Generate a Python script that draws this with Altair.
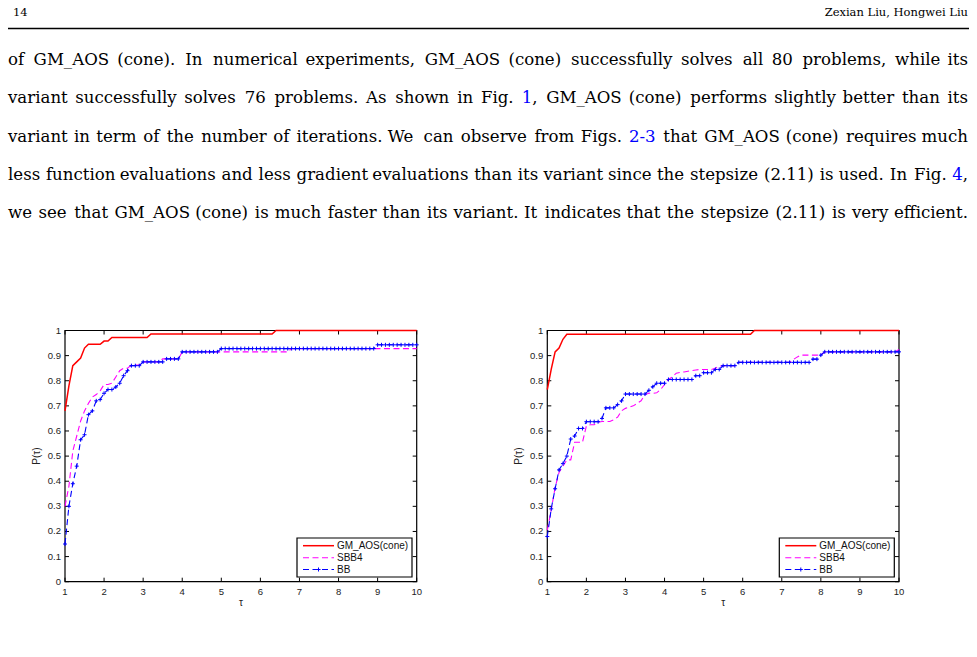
import altair as alt
import pandas as pd

# ---------------- data ----------------
tau = [1.0, 1.1, 1.2, 1.3, 1.4, 1.5, 1.6, 1.7, 1.8, 1.9,
       2.0, 2.1, 2.2, 2.3, 2.4, 2.5, 2.6, 2.7, 2.8, 2.9,
       3.0, 3.1, 3.2, 3.3, 3.4, 3.5, 3.6, 3.7, 3.8, 3.9,
       4.0, 4.1, 4.2, 4.3, 4.4, 4.5, 4.6, 4.7, 4.8, 4.9,
       5.0, 5.1, 5.2, 5.3, 5.4, 5.5, 5.6, 5.7, 5.8, 5.9,
       6.0, 6.1, 6.2, 6.3, 6.4, 6.5, 6.6, 6.7, 6.8, 6.9,
       7.0, 7.1, 7.2, 7.3, 7.4, 7.5, 7.6, 7.7, 7.8, 7.9,
       8.0, 8.1, 8.2, 8.3, 8.4, 8.5, 8.6, 8.7, 8.8, 8.9,
       9.0, 9.1, 9.2, 9.3, 9.4, 9.5, 9.6, 9.7, 9.8, 9.9,
       10.0]

# left panel
a_gm = [0.68, 0.78, 0.86, 0.875, 0.89, 0.93, 0.945, 0.945, 0.945, 0.945,
        0.958, 0.958, 0.972, 0.972, 0.972, 0.972, 0.972, 0.972, 0.972, 0.972,
        0.972, 0.972, 0.986, 0.986, 0.986, 0.986, 0.986, 0.986, 0.986, 0.986,
        0.986, 0.986, 0.986, 0.986, 0.986, 0.986, 0.986, 0.986, 0.986, 0.986,
        0.986, 0.986, 0.986, 0.986, 0.986, 0.986, 0.986, 0.986, 0.986, 0.986,
        0.986, 0.986, 0.986, 0.986, 1.0, 1.0, 1.0, 1.0, 1.0, 1.0,
        1.0, 1.0, 1.0, 1.0, 1.0, 1.0, 1.0, 1.0, 1.0, 1.0,
        1.0, 1.0, 1.0, 1.0, 1.0, 1.0, 1.0, 1.0, 1.0, 1.0,
        1.0, 1.0, 1.0, 1.0, 1.0, 1.0, 1.0, 1.0, 1.0, 1.0,
        1.0]
a_sbb = [0.30, 0.38, 0.52, 0.58, 0.64, 0.68, 0.71, 0.735, 0.745, 0.76,
         0.785, 0.785, 0.79, 0.815, 0.84, 0.85, 0.85, 0.862, 0.862, 0.862,
         0.875, 0.875, 0.875, 0.875, 0.875, 0.887, 0.887, 0.887, 0.887, 0.887,
         0.915, 0.915, 0.915, 0.915, 0.915, 0.915, 0.915, 0.915, 0.915, 0.915,
         0.915, 0.915, 0.915, 0.915, 0.915, 0.915, 0.915, 0.915, 0.915, 0.915,
         0.915, 0.915, 0.915, 0.915, 0.915, 0.915, 0.915, 0.915, 0.928, 0.928,
         0.928, 0.928, 0.928, 0.928, 0.928, 0.928, 0.928, 0.928, 0.928, 0.928,
         0.928, 0.928, 0.928, 0.928, 0.928, 0.928, 0.928, 0.928, 0.928, 0.928,
         0.928, 0.928, 0.928, 0.928, 0.928, 0.928, 0.928, 0.928, 0.928, 0.928,
         0.928]
a_bb = [0.15, 0.30, 0.39, 0.46, 0.565, 0.585, 0.665, 0.68, 0.72, 0.725,
        0.75, 0.765, 0.765, 0.775, 0.79, 0.82, 0.84, 0.86, 0.86, 0.86,
        0.875, 0.875, 0.875, 0.875, 0.875, 0.875, 0.887, 0.887, 0.887, 0.887,
        0.915, 0.915, 0.915, 0.915, 0.915, 0.915, 0.915, 0.915, 0.915, 0.915,
        0.928, 0.928, 0.928, 0.928, 0.928, 0.928, 0.928, 0.928, 0.928, 0.928,
        0.928, 0.928, 0.928, 0.928, 0.928, 0.928, 0.928, 0.928, 0.928, 0.928,
        0.928, 0.928, 0.928, 0.928, 0.928, 0.928, 0.928, 0.928, 0.928, 0.928,
        0.928, 0.928, 0.928, 0.928, 0.928, 0.928, 0.928, 0.928, 0.928, 0.928,
        0.943, 0.943, 0.943, 0.943, 0.943, 0.943, 0.943, 0.943, 0.943, 0.943,
        0.943]

# right panel
b_gm = [0.765, 0.845, 0.915, 0.93, 0.965, 0.985, 0.985, 0.985, 0.985, 0.985,
        0.985, 0.985, 0.985, 0.985, 0.985, 0.985, 0.985, 0.985, 0.985, 0.985,
        0.985, 0.985, 0.985, 0.985, 0.985, 0.985, 0.985, 0.985, 0.985, 0.985,
        0.985, 0.985, 0.985, 0.985, 0.985, 0.985, 0.985, 0.985, 0.985, 0.985,
        0.985, 0.985, 0.985, 0.985, 0.985, 0.985, 0.985, 0.985, 0.985, 0.985,
        0.985, 0.985, 0.985, 1.0, 1.0, 1.0, 1.0, 1.0, 1.0, 1.0,
        1.0, 1.0, 1.0, 1.0, 1.0, 1.0, 1.0, 1.0, 1.0, 1.0,
        1.0, 1.0, 1.0, 1.0, 1.0, 1.0, 1.0, 1.0, 1.0, 1.0,
        1.0, 1.0, 1.0, 1.0, 1.0, 1.0, 1.0, 1.0, 1.0, 1.0,
        1.0]
b_sbb = [0.205, 0.285, 0.375, 0.435, 0.46, 0.485, 0.485, 0.555, 0.555, 0.555,
         0.62, 0.625, 0.625, 0.635, 0.638, 0.638, 0.638, 0.645, 0.655, 0.68,
         0.69, 0.695, 0.70, 0.71, 0.72, 0.745, 0.75, 0.75, 0.752, 0.765,
         0.785, 0.805, 0.815, 0.83, 0.833, 0.835, 0.838, 0.84, 0.843, 0.845,
         0.845, 0.845, 0.845, 0.85, 0.858, 0.86, 0.86, 0.86, 0.86, 0.873,
         0.873, 0.873, 0.873, 0.873, 0.873, 0.873, 0.873, 0.873, 0.873, 0.873,
         0.873, 0.873, 0.873, 0.885, 0.895, 0.902, 0.902, 0.902, 0.902, 0.902,
         0.902, 0.915, 0.915, 0.915, 0.915, 0.915, 0.915, 0.915, 0.915, 0.915,
         0.915, 0.915, 0.915, 0.915, 0.915, 0.915, 0.915, 0.915, 0.915, 0.915,
         0.925]
b_bb = [0.18, 0.29, 0.37, 0.445, 0.47, 0.50, 0.568, 0.58, 0.61, 0.61,
        0.637, 0.637, 0.637, 0.637, 0.65, 0.692, 0.692, 0.692, 0.705, 0.72,
        0.747, 0.747, 0.747, 0.747, 0.747, 0.747, 0.762, 0.776, 0.79, 0.79,
        0.79, 0.805, 0.805, 0.805, 0.805, 0.805, 0.805, 0.805, 0.82, 0.82,
        0.832, 0.832, 0.832, 0.845, 0.845, 0.86, 0.86, 0.86, 0.86, 0.873,
        0.873, 0.873, 0.873, 0.873, 0.873, 0.873, 0.873, 0.873, 0.873, 0.873,
        0.873, 0.873, 0.873, 0.873, 0.873, 0.873, 0.873, 0.873, 0.886, 0.886,
        0.902, 0.915, 0.915, 0.915, 0.915, 0.915, 0.915, 0.915, 0.915, 0.915,
        0.915, 0.915, 0.915, 0.915, 0.915, 0.915, 0.915, 0.915, 0.915, 0.915,
        0.915]

series_names = ["GM_AOS(cone)", "SBB4", "BB"]
series_colors = ["#ff0000", "#ff00ff", "#0000ff"]

x_ticks = [1, 2, 3, 4, 5, 6, 7, 8, 9, 10]
x_tick_labels = ["1", "2", "3", "4", "5", "6", "7", "8", "9", "10"]
y_ticks = [0, 0.1, 0.2, 0.3, 0.4, 0.5, 0.6, 0.7, 0.8, 0.9, 1.0]
y_tick_labels = ["0", "0.1", "0.2", "0.3", "0.4", "0.5", "0.6", "0.7", "0.8", "0.9", "1"]
x_domain = [1, 10]
y_domain = [0, 1]
x_title = "τ"
y_title = "P(τ)"

# page text: each line is a list of (text, is_link) runs
page_number = "14"
running_head = "Zexian Liu, Hongwei Liu"
para_runs = [
    [("of GM_AOS (cone). In numerical experiments, GM_AOS (cone) successfully solves all 80 problems, while its", False)],
    [("variant successfully solves 76 problems. As shown in Fig. ", False), ("1", True),
     (", GM_AOS (cone) performs slightly better than its", False)],
    [("variant in term of the number of iterations. We can observe from Figs. ", False), ("2-3", True),
     (" that GM_AOS (cone) requires much", False)],
    [("less function evaluations and less gradient evaluations than its variant since the stepsize (2.11) is used. In Fig. ", False),
     ("4", True), (",", False)],
    [("we see that GM_AOS (cone) is much faster than its variant. It indicates that the stepsize (2.11) is very efficient.", False)],
]

# ---------------- layout ----------------
W, H = 977, 657
ONE = pd.DataFrame({"k": [0]})
BODY_FONT = "DejaVu Serif"
BODY_SIZE = 16.6
SANS = "Liberation Sans"
TEXT_LEFT, TEXT_RIGHT = 8, 968
line_baselines = [64.5, 103, 141.5, 179.5, 217.5]

# approximate advance widths (em) used only to justify the lines of text
CW = {" ": .318, "(": .390, ")": .390, ",": .318, "-": .361, ".": .318, "_": .5,
      "0": .636, "1": .636, "2": .636, "3": .636, "4": .636, "5": .636, "6": .636,
      "7": .636, "8": .636, "9": .636,
      "A": .722, "F": .715, "G": .775, "I": .468, "M": .995, "O": .787, "S": .685, "W": 1.1,
      "a": .613, "b": .635, "c": .550, "d": .635, "e": .615, "f": .352, "g": .635, "h": .634,
      "i": .278, "k": .579, "l": .278, "m": .974, "n": .634, "o": .612, "p": .635, "q": .635,
      "r": .411, "s": .521, "t": .392, "u": .634, "v": .592, "w": .818, "x": .592, "y": .592,
      "z": .525}


def tw(s):
    return sum(CW.get(c, 0.6) for c in s) * BODY_SIZE


rows = []
for li, runs in enumerate(para_runs):
    words = [[]]
    for txt, link in runs:
        parts = txt.split(" ")
        for k, p in enumerate(parts):
            if k > 0:
                words.append([])
            if p:
                words[-1].append((p, link))
    words = [w for w in words if w]
    ww = [sum(tw(p) for p, _ in w) for w in words]
    gap = (TEXT_RIGHT - TEXT_LEFT - sum(ww)) / (len(words) - 1)
    x = TEXT_LEFT
    for i, w in enumerate(words):
        if i == len(words) - 1:
            px = TEXT_RIGHT
            for p, link in reversed(w):
                rows.append({"t": p, "x": px, "y": line_baselines[li], "al": "right",
                             "c": "#0000ff" if link else "#000000"})
                px -= tw(p)
        else:
            px = x
            for p, link in w:
                rows.append({"t": p, "x": px, "y": line_baselines[li], "al": "left",
                             "c": "#0000ff" if link else "#000000"})
                px += tw(p)
        x += ww[i] + gap
words_df = pd.DataFrame(rows)

page_x = alt.Scale(domain=[0, W], range=[0, W], nice=False, zero=False)
page_y = alt.Scale(domain=[0, H], range=[0, H], nice=False, zero=False)


def text_layer(txt, x, y, align="left", color="black", size=BODY_SIZE, font=BODY_FONT,
               baseline="alphabetic"):
    return alt.Chart(ONE).mark_text(text=txt, align=align, baseline=baseline, font=font,
                                    fontSize=size, color=color).encode(x=alt.value(x), y=alt.value(y))


layers = []
# header
layers.append(text_layer(page_number, 13, 15.5, size=11.5))
layers.append(text_layer(running_head, 968, 15.5, align="right", size=11.5))
layers.append(alt.Chart(ONE).mark_rule(color="black", strokeWidth=1.6).encode(
    x=alt.value(8), x2=alt.value(969), y=alt.value(28.5)))

for al in ["left", "right"]:
    layers.append(alt.Chart(words_df[words_df["al"] == al]).mark_text(
        align=al, baseline="alphabetic", font=BODY_FONT, fontSize=BODY_SIZE).encode(
        x=alt.X("x:Q", scale=page_x, axis=None),
        y=alt.Y("y:Q", scale=page_y, axis=None),
        text="t:N",
        color=alt.Color("c:N", scale=None)))


def panel(vals, x_left):
    x_right = x_left + 351.7
    xs = alt.Scale(domain=x_domain, range=[x_left, x_right], nice=False, zero=False)
    ys = alt.Scale(domain=y_domain, range=[581.7, 330.5], nice=False, zero=False)
    out = []
    frame = pd.DataFrame({"x0": [x_domain[0]], "x1": [x_domain[1]],
                          "y0": [y_domain[0]], "y1": [y_domain[1]]})
    out.append(alt.Chart(frame).mark_rect(fillOpacity=0, stroke="black", strokeWidth=1.2).encode(
        x=alt.X("x0:Q", scale=xs, axis=None), x2="x1",
        y=alt.Y("y0:Q", scale=ys, axis=None), y2="y1"))

    xt = pd.DataFrame({"t": x_ticks, "lab": x_tick_labels,
                       "lo": [y_domain[0]] * len(x_ticks), "hi": [y_domain[1]] * len(x_ticks)})
    yt = pd.DataFrame({"t": y_ticks, "lab": y_tick_labels,
                       "lo": [x_domain[0]] * len(y_ticks), "hi": [x_domain[1]] * len(y_ticks)})
    tk = dict(color="black", strokeWidth=1)
    out.append(alt.Chart(xt).mark_rule(y2Offset=-4, **tk).encode(
        x=alt.X("t:Q", scale=xs, axis=None), y=alt.Y("lo:Q", scale=ys, axis=None), y2="lo"))
    out.append(alt.Chart(xt).mark_rule(y2Offset=4, **tk).encode(
        x=alt.X("t:Q", scale=xs, axis=None), y=alt.Y("hi:Q", scale=ys, axis=None), y2="hi"))
    out.append(alt.Chart(yt).mark_rule(x2Offset=4, **tk).encode(
        y=alt.Y("t:Q", scale=ys, axis=None), x=alt.X("lo:Q", scale=xs, axis=None), x2="lo"))
    out.append(alt.Chart(yt).mark_rule(x2Offset=-4, **tk).encode(
        y=alt.Y("t:Q", scale=ys, axis=None), x=alt.X("hi:Q", scale=xs, axis=None), x2="hi"))
    lab = dict(font=SANS, fontSize=9.5, color="#222222")
    out.append(alt.Chart(xt).mark_text(baseline="top", align="center", dy=5, **lab).encode(
        x=alt.X("t:Q", scale=xs, axis=None), y=alt.Y("lo:Q", scale=ys, axis=None), text="lab:N"))
    out.append(alt.Chart(yt).mark_text(baseline="middle", align="right", dx=-4, **lab).encode(
        y=alt.Y("t:Q", scale=ys, axis=None), x=alt.X("lo:Q", scale=xs, axis=None), text="lab:N"))
    # axis titles
    tt = pd.DataFrame({"xm": [(x_domain[0] + x_domain[1]) / 2], "ym": [(y_domain[0] + y_domain[1]) / 2],
                       "x0": [x_domain[0]], "y0": [y_domain[0]]})
    out.append(alt.Chart(tt).mark_text(text=x_title, baseline="middle", align="center", dy=21,
                                       font=SANS, fontSize=10, color="#222222").encode(
        x=alt.X("xm:Q", scale=xs, axis=None), y=alt.Y("y0:Q", scale=ys, axis=None)))
    # rotated text: dy moves it horizontally (to the left when negative)
    out.append(alt.Chart(tt).mark_text(text=y_title, baseline="middle", align="center", angle=270,
                                       dy=-28, font=SANS, fontSize=10, color="#222222").encode(
        x=alt.X("x0:Q", scale=xs, axis=None), y=alt.Y("ym:Q", scale=ys, axis=None)))

    # curves
    for i, v in enumerate(vals):
        df = pd.DataFrame({"tau": tau, "p": v, "series": series_names[i]})
        if i == 0:
            mk = alt.Chart(df).mark_line(color=series_colors[i], strokeWidth=1.5)
        else:
            mk = alt.Chart(df).mark_line(color=series_colors[i], strokeWidth=1.1, strokeDash=[6, 3.5])
        enc = dict(x=alt.X("tau:Q", scale=xs, axis=None), y=alt.Y("p:Q", scale=ys, axis=None))
        out.append(mk.encode(**enc))
        if i == 2:
            out.append(alt.Chart(df).mark_point(shape="M-1,0L1,0M0,-1L0,1", size=16, filled=False,
                                                stroke=series_colors[i], strokeWidth=1, opacity=1).encode(**enc))

    # legend
    lx0 = x_left + 232
    out.append(alt.Chart(ONE).mark_rect(fill="white", stroke="black", strokeWidth=1.2).encode(
        x=alt.value(lx0), x2=alt.value(lx0 + 115), y=alt.value(538), y2=alt.value(577)))
    ly = [545.7, 557.7, 569.5]
    for i, nm in enumerate(series_names):
        if i == 0:
            r = alt.Chart(ONE).mark_rule(color=series_colors[i], strokeWidth=1.5)
        else:
            r = alt.Chart(ONE).mark_rule(color=series_colors[i], strokeWidth=1.1, strokeDash=[6, 3.5])
        out.append(r.encode(x=alt.value(lx0 + 6), x2=alt.value(lx0 + 37), y=alt.value(ly[i])))
        if i == 2:
            out.append(alt.Chart(ONE).mark_point(shape="M-1,0L1,0M0,-1L0,1", size=16, filled=False,
                                                 stroke=series_colors[i], strokeWidth=1, opacity=1).encode(
                x=alt.value(lx0 + 21.5), y=alt.value(ly[i])))
        out.append(text_layer(nm, lx0 + 40, ly[i], size=10, font=SANS, baseline="middle", color="#111111"))
    return out


layers += panel([a_gm, a_sbb, a_bb], 65.0)
layers += panel([b_gm, b_sbb, b_bb], 547.3)

chart = alt.layer(*layers).properties(
    width=W, height=H, padding=0, autosize=alt.AutoSizeParams(type="none")
).resolve_scale(x="independent", y="independent").configure_view(stroke=None)

chart.save("out.html", embed_options={"renderer": "svg", "actions": False})
